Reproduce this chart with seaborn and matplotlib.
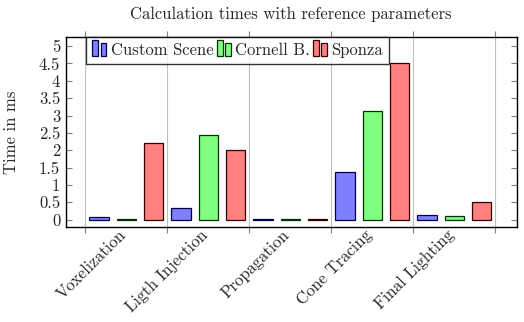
import numpy as np
import pandas as pd
import matplotlib
matplotlib.use("Agg")
import matplotlib.pyplot as plt
import matplotlib.transforms as mtransforms
from matplotlib.patches import Rectangle
from matplotlib.legend_handler import HandlerBase
import seaborn as sns

# ---- data ----
stages = ["Voxelization", "Ligth Injection", "Propagation", "Cone Tracing", "Final Lighting"]
scenes = ["Custom Scene", "Cornell B.", "Sponza"]
custom_scene = [0.08, 0.35, 0.02, 1.38, 0.14]
cornell_box = [0.01, 2.45, 0.02, 3.14, 0.11]
sponza = [2.22, 2.02, 0.02, 4.52, 0.52]
ytick_values = [0, 0.5, 1, 1.5, 2, 2.5, 3, 3.5, 4, 4.5, 5]
ytick_labels = ["0", "0.5", "1", "1.5", "2", "2.5", "3", "3.5", "4", "4.5", "5"]

fills = ["#8080ff", "#80ff80", "#ff8080"]
edges = ["#00004d", "#003300", "#330000"]

df = pd.DataFrame({
    "stage": stages * 3,
    "scene": np.repeat(scenes, len(stages)),
    "time": custom_scene + cornell_box + sponza,
})

sns.set_theme(style="white")
plt.rcParams["font.family"] = ["cmr10", "DejaVu Serif"]
plt.rcParams["axes.formatter.use_mathtext"] = True
plt.rcParams["mathtext.fontset"] = "cm"

fig = plt.figure(figsize=(5.24, 3.22), dpi=100)
ax = fig.add_axes([0.1254, 0.294, 0.8607, 0.592])

sns.barplot(data=df, x="stage", y="time", hue="scene", hue_order=scenes,
            order=stages, palette=fills, saturation=1, width=1.0, gap=0.3,
            linewidth=0.9, ax=ax, legend=False, err_kws={"linewidth": 0})

for cont, ec in zip(ax.containers, edges):
    for bar in cont:
        bar.set_edgecolor(ec)
        bar.set_zorder(3)

ax.set_xlim(-0.74, 4.76)
ax.set_ylim(-0.22, 5.27)

# group separators: ticks and grid between stages
ax.set_xticks(np.arange(-0.5, 5.0, 1.0), minor=True)
ax.set_xticks(range(len(stages)))
ax.set_xticklabels(stages, rotation=45, ha="right", va="center",
                   rotation_mode="anchor", fontsize=12)
ax.tick_params(axis="x", which="major", length=0, pad=4)
shift = mtransforms.ScaledTranslation(-3 / 100, 0, fig.dpi_scale_trans)
for lbl in ax.get_xticklabels():
    lbl.set_transform(lbl.get_transform() + shift)
ax.tick_params(axis="x", which="minor", direction="out", length=4.3,
               width=0.8, color="#808080", top=True, bottom=True)
ax.grid(False)
ax.grid(axis="x", which="minor", color="#c0c0c0", linewidth=0.8, zorder=0)

ax.set_yticks(ytick_values)
ax.set_yticklabels(ytick_labels, fontsize=12)
ax.tick_params(axis="y", direction="in", length=4.3, width=0.8,
               color="#808080", left=True, right=True, pad=4)

for sp in ax.spines.values():
    sp.set_color("black")
    sp.set_linewidth(1.0)

ax.set_xlabel("")
ax.set_ylabel("Time in ms", fontsize=12)
ax.yaxis.set_label_coords(-0.104, 0.5)
ax.set_title("Calculation times with reference parameters", fontsize=12, pad=13)


class TwoBarHandler(HandlerBase):
    def __init__(self, fc, ec):
        super().__init__()
        self.fc, self.ec = fc, ec

    def create_artists(self, legend, orig_handle, xdescent, ydescent,
                       width, height, fontsize, trans):
        w = width * 0.42
        r1 = Rectangle((-xdescent, -ydescent - 1), w, height + 3,
                       facecolor=self.fc, edgecolor=self.ec, lw=0.9, transform=trans)
        r2 = Rectangle((-xdescent + width * 0.58, -ydescent - 1), w, height + 1,
                       facecolor=self.fc, edgecolor=self.ec, lw=0.9, transform=trans)
        return [r1, r2]


handles = [Rectangle((0, 0), 1, 1, label=s) for s in scenes]
hmap = {h: TwoBarHandler(f, e) for h, f, e in zip(handles, fills, edges)}
leg = ax.legend(handles=handles, labels=scenes, handler_map=hmap, ncol=3,
                loc="upper left", bbox_to_anchor=(0.046, 1.0), borderaxespad=0,
                fontsize=12, frameon=True, fancybox=False, handlelength=0.85,
                handleheight=0.7, handletextpad=0.25, columnspacing=0.2,
                borderpad=0.35)
leg.get_frame().set_edgecolor("black")
leg.get_frame().set_linewidth(1.0)
leg.set_zorder(5)

fig.savefig("out.png", dpi=100)
